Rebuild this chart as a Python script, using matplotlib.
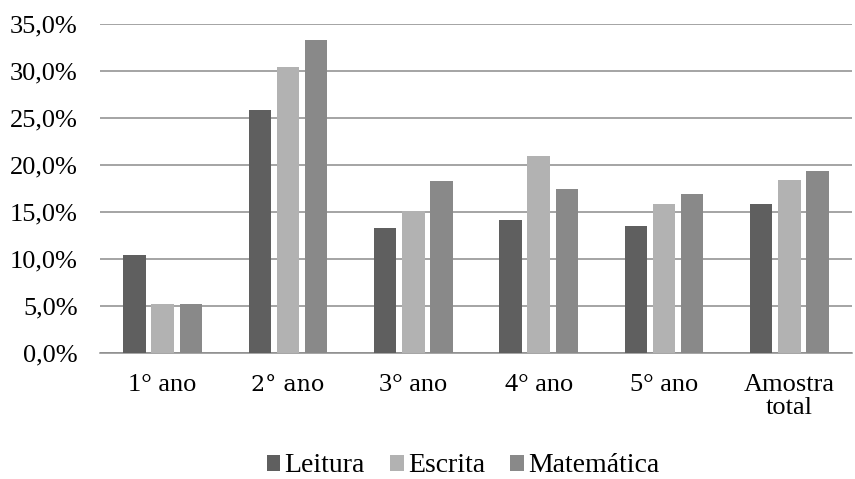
import numpy as np
from matplotlib import pyplot as plt

categorias = ['1° ano', '2° ano', '3° ano', '4° ano', '5° ano', 'Amostra\ntotal']
leitura = [10.4, 25.8, 13.3, 14.1, 13.5, 15.9]
escrita = [5.2, 30.4, 15.1, 21.0, 15.9, 18.4]
matematica = [5.2, 33.3, 18.3, 17.5, 16.9, 19.4]
series = ['Leitura', 'Escrita', 'Matemática']
cores = ['#5f5f5f', '#b2b2b2', '#898989']
yticks = [0, 5, 10, 15, 20, 25, 30, 35]

plt.rcParams['font.family'] = ['Liberation Serif', 'DejaVu Serif']

fig = plt.figure(figsize=(8.55, 4.79), dpi=100)
ax = fig.add_axes([100 / 855, 1 - 353 / 479, 752 / 855, 329 / 479])

x = np.arange(len(categorias))
largura = 0.18
passo = 0.225
for i, (vals, nome, cor) in enumerate(zip([leitura, escrita, matematica], series, cores)):
    ax.bar(x + (i - 1) * passo, vals, largura, color=cor, label=nome, zorder=3)

ax.set_xlim(-0.5, len(categorias) - 0.5)
ax.set_ylim(0, 35)
ax.set_yticks(yticks)
ax.set_yticklabels(['%s%%' % ('%.1f' % v).replace('.', ',') for v in yticks])
ax.set_xticks(x)
ax.set_xticklabels(categorias, linespacing=1.08)
ax.tick_params(axis='both', length=0, labelsize=19, colors='#000000')
ax.tick_params(axis='y', pad=16)
ax.tick_params(axis='x', pad=15)
ax.get_xticklabels()[1].set_family('DejaVu Serif')
ax.get_xticklabels()[1].set_fontsize(16)

ax.grid(axis='y', color='#8c8c8c', linewidth=1.1, zorder=0)
for s in ['left', 'right', 'top']:
    ax.spines[s].set_visible(False)
ax.spines['bottom'].set_color('#8c8c8c')
ax.spines['bottom'].set_linewidth(1.1)

fig.legend(loc='center', bbox_to_anchor=(463 / 855, 1 - 466 / 479), ncol=3, frameon=False,
           fontsize=20, handlelength=0.5, handleheight=0.5, handletextpad=0.15,
           columnspacing=0.9)

fig.savefig('out.png', dpi=100)
